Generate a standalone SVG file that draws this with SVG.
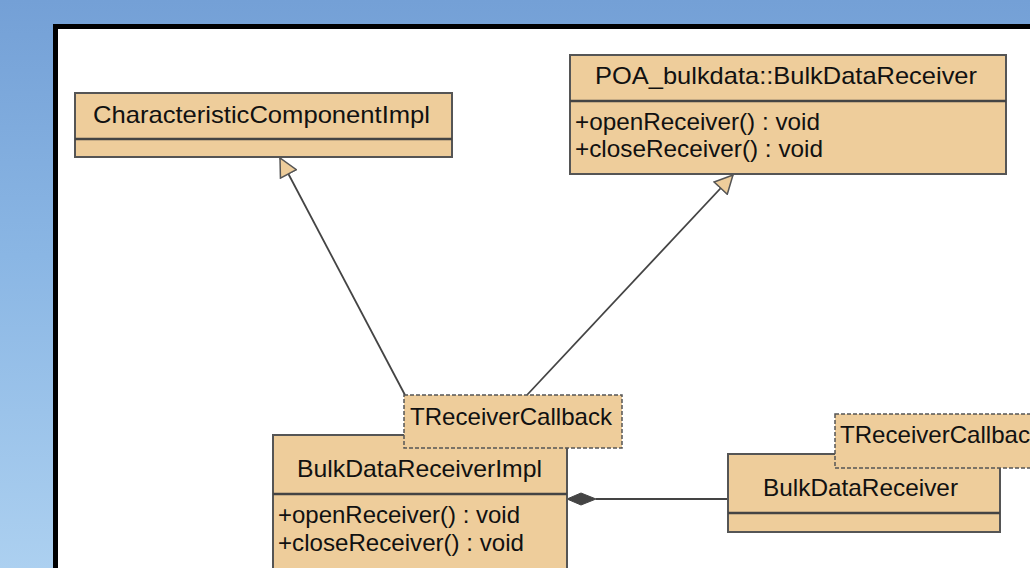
<svg xmlns="http://www.w3.org/2000/svg" width="1030" height="568" viewBox="0 0 1030 568">
<defs>
<linearGradient id="bg" x1="0" y1="0" x2="0" y2="1">
<stop offset="0" stop-color="#74a0d6"/>
<stop offset="0.45" stop-color="#8ab6e4"/>
<stop offset="1" stop-color="#acd0f0"/>
</linearGradient>
<marker id="tri" viewBox="0 0 20 20" refX="19" refY="10" markerWidth="20" markerHeight="20" markerUnits="userSpaceOnUse" orient="auto">
<path d="M1,1 L19,10 L1,19 Z" fill="#eecd9b" stroke="#555" stroke-width="1.5"/>
</marker>
</defs>
<style>
.box{fill:#eecd9b;stroke:#555;stroke-width:2}
.dash{fill:#eecd9b;stroke:#555;stroke-width:1.5;stroke-dasharray:4 2}
.div{stroke:#444;stroke-width:2.5}
.t{font-family:"Liberation Sans",Arial,sans-serif;font-size:24px;fill:#111}
.edge{stroke:#444;stroke-width:1.8;fill:none}
</style>
<rect x="0" y="0" width="1030" height="568" fill="url(#bg)"/>
<rect x="55.5" y="26.5" width="1000" height="600" fill="#fff" stroke="#000" stroke-width="5"/>
<g id="connectors">
<line class="edge" x1="405" y1="395" x2="280" y2="158" marker-end="url(#tri)"/>
<line class="edge" x1="527" y1="395" x2="733" y2="175" marker-end="url(#tri)"/>
<line class="edge" x1="596" y1="499" x2="728" y2="499"/>
<path d="M567,499 L581,493 L596,499 L581,505 Z" fill="#444" stroke="#444" stroke-width="1"/>
</g>
<g id="characteristicComponentImpl">
<rect class="box" x="75" y="93" width="377" height="64"/>
<line class="div" x1="75" y1="139" x2="452" y2="139"/>
<text class="t" x="93" y="123" textLength="337" lengthAdjust="spacingAndGlyphs">CharacteristicComponentImpl</text>
</g>
<g id="poaBulkDataReceiver">
<rect class="box" x="570" y="55" width="436" height="119"/>
<line class="div" x1="570" y1="101" x2="1006" y2="101"/>
<text class="t" x="595" y="84" textLength="382" lengthAdjust="spacingAndGlyphs">POA_bulkdata::BulkDataReceiver</text>
<text class="t" x="575" y="130" textLength="245" lengthAdjust="spacingAndGlyphs">+openReceiver() : void</text>
<text class="t" x="575" y="157" textLength="248" lengthAdjust="spacingAndGlyphs">+closeReceiver() : void</text>
</g>
<g id="bulkDataReceiverImpl">
<rect class="box" x="273" y="435" width="294" height="140"/>
<line class="div" x1="273" y1="494" x2="567" y2="494"/>
<text class="t" x="297" y="477" textLength="245" lengthAdjust="spacingAndGlyphs">BulkDataReceiverImpl</text>
<text class="t" x="278" y="523" textLength="242" lengthAdjust="spacingAndGlyphs">+openReceiver() : void</text>
<text class="t" x="278" y="551" textLength="246" lengthAdjust="spacingAndGlyphs">+closeReceiver() : void</text>
</g>
<g id="tReceiverCallback1">
<rect class="dash" x="404" y="395" width="218" height="53"/>
<text class="t" x="410" y="425" textLength="202" lengthAdjust="spacingAndGlyphs">TReceiverCallback</text>
</g>
<g id="bulkDataReceiver">
<rect class="box" x="728" y="454" width="272" height="78"/>
<line class="div" x1="728" y1="513" x2="1000" y2="513"/>
<text class="t" x="763" y="496" textLength="195" lengthAdjust="spacingAndGlyphs">BulkDataReceiver</text>
</g>
<g id="tReceiverCallback2">
<rect class="dash" x="835" y="414" width="230" height="54"/>
<text class="t" x="840" y="443" textLength="202" lengthAdjust="spacingAndGlyphs">TReceiverCallback</text>
</g>
</svg>
